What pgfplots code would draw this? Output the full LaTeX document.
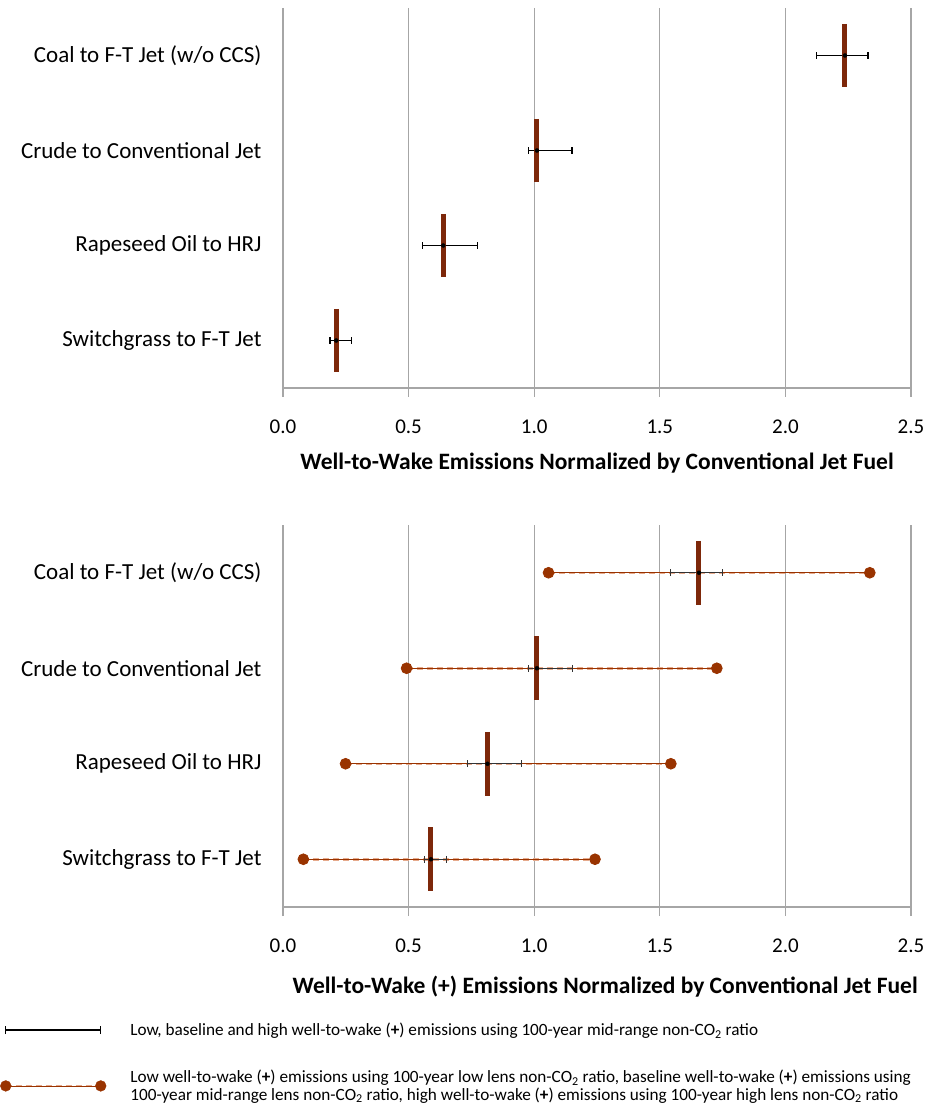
\documentclass[border=0pt]{standalone}
\usepackage{fontspec}
\setmainfont{Carlito}
\usepackage{pgfplots}
\usepackage{pgfplotstable}
\pgfplotsset{compat=1.18}
\definecolor{barc}{HTML}{7D280A}
\definecolor{dotc}{HTML}{993300}
\definecolor{palec}{HTML}{E6AA8C}
\definecolor{gridc}{HTML}{A6A6A6}

\pgfplotstableread[row sep=\\]{
x y ep em\\
2.237 0 0.091 0.114\\
1.011 1 0.140 0.033\\
0.638 2 0.137 0.082\\
0.212 3 0.060 0.025\\
}\toperr
\pgfplotstableread[row sep=\\]{
x y ep em\\
1.656 0 0.092 0.115\\
1.011 1 0.140 0.033\\
0.814 2 0.135 0.081\\
0.589 3 0.060 0.026\\
}\boterr

\pgfplotsset{mystyle/.style={
  width=628pt, scale only axis,
  xmin=0, xmax=2.5, ymin=-0.5, ymax=3.5, y dir=reverse,
  xtick={0,0.5,1,1.5,2,2.5},
  xticklabels={0.0,0.5,1.0,1.5,2.0,2.5},
  ytick={0,1,2,3},
  yticklabels={Coal to F-T Jet (w/o CCS),Crude to Conventional Jet,Rapeseed Oil to HRJ,Switchgrass to F-T Jet},
  xmajorgrids, major grid style={gridc, line width=1.2pt},
  axis x line*=bottom, axis y line*=left,
  x axis line style={gridc, line width=1.2pt},
  y axis line style={draw=none},
  tick align=outside, major tick length=9pt,
  xtick style={gridc, line width=1.2pt},
  ytick style={draw=none},
  xticklabel style={font=\fontsize{21}{25}\selectfont, yshift=-19pt},
  yticklabel style={font=\fontsize{23}{27}\selectfont, xshift=-9pt},
  /pgf/number format/assume math mode=true,
  clip=false,
}}

\begin{document}
\begin{tikzpicture}
\path[use as bounding box] (0,0) rectangle (930pt,1105pt);
\begin{axis}[mystyle, height=380pt, at={(283pt,717pt)}, anchor=south west,
  xlabel={Well-to-Wake Emissions Normalized by Conventional Jet Fuel},
  every axis x label/.style={at={(axis description cs:0.5,-0.197)}, anchor=center,
    font=\bfseries\fontsize{23.5}{27}\selectfont}]
\addplot[only marks, mark=|, mark size=31.5pt, mark options={line width=5pt, draw=barc}]
  coordinates {(2.237,0) (1.011,1) (0.638,2) (0.212,3)};
\addplot[only marks, mark=none, black,
  error bars/.cd, x dir=both, x explicit,
  error bar style={line width=1.4pt, black},
  error mark options={mark size=3.3pt, line width=1.4pt, black, rotate=90}]
  table[x=x, y=y, x error plus=ep, x error minus=em] {\toperr};
\end{axis}

\begin{axis}[mystyle, height=382pt, at={(283pt,198pt)}, anchor=south west,
  xlabel={Well-to-Wake (\textbf{+}) Emissions Normalized by Conventional Jet Fuel},
  every axis x label/.style={at={(axis description cs:0.513,-0.209)}, anchor=center,
    font=\bfseries\fontsize{23.5}{27}\selectfont},
  legend style={at={(axis description cs:-0.4507,-0.298)}, anchor=north west,
    draw=none, fill=none, inner sep=0pt,
    font=\fontsize{17.2}{17.5}\selectfont,
    cells={anchor=west, align=left},
    row sep=29pt,
    /tikz/every odd column/.append style={column sep=22pt}},
  legend cell align=left]
% ranges
\addplot[palec, line width=2.5pt, dash pattern=on 6pt off 4pt, forget plot] coordinates {(1.057,0) (2.336,0)};
\addplot[dotc, line width=0.8pt, mark=*, mark size=5.4pt, mark options={solid, fill=dotc, draw=dotc}, forget plot] coordinates {(1.057,0) (2.336,0)};
\addplot[palec, line width=2.5pt, dash pattern=on 6pt off 4pt, forget plot] coordinates {(0.492,1) (1.727,1)};
\addplot[dotc, line width=0.8pt, mark=*, mark size=5.4pt, mark options={solid, fill=dotc, draw=dotc}, forget plot] coordinates {(0.492,1) (1.727,1)};
\addplot[palec, line width=2.5pt, dash pattern=on 6pt off 4pt, forget plot] coordinates {(0.249,2) (1.544,2)};
\addplot[dotc, line width=0.8pt, mark=*, mark size=5.4pt, mark options={solid, fill=dotc, draw=dotc}, forget plot] coordinates {(0.249,2) (1.544,2)};
\addplot[palec, line width=2.5pt, dash pattern=on 6pt off 4pt, forget plot] coordinates {(0.081,3) (1.242,3)};
\addplot[dotc, line width=0.8pt, mark=*, mark size=5.4pt, mark options={solid, fill=dotc, draw=dotc}, forget plot] coordinates {(0.081,3) (1.242,3)};
% centres
\addplot[only marks, mark=|, mark size=32pt, mark options={line width=5pt, draw=barc}, forget plot]
  coordinates {(1.656,0) (1.011,1) (0.814,2) (0.589,3)};
\addplot[only marks, mark=none, black, forget plot,
  error bars/.cd, x dir=both, x explicit,
  error bar style={line width=1pt, black!80},
  error mark options={mark size=3.3pt, line width=1pt, black!80, rotate=90}]
  table[x=x, y=y, x error plus=ep, x error minus=em] {\boterr};
% legend
\addlegendimage{legend image code/.code={
  \draw[black, line width=1.4pt] (0pt,0pt) -- (95pt,0pt);
  \draw[black, line width=1.4pt] (0pt,-4pt) -- (0pt,4pt);
  \draw[black, line width=1.4pt] (95pt,-4pt) -- (95pt,4pt);}}
\addlegendentry{Low, baseline and high well-to-wake (\textbf{+}) emissions using 100-year mid-range non-CO\textsubscript{2} ratio}
\addlegendimage{legend image code/.code={
  \draw[palec, line width=2.5pt, dash pattern=on 6pt off 4pt] (0pt,0pt) -- (95pt,0pt);
  \draw[dotc, line width=0.8pt] (0pt,0pt) -- (95pt,0pt);
  \fill[dotc] (0pt,0pt) circle (5.4pt);
  \fill[dotc] (95pt,0pt) circle (5.4pt);}}
\addlegendentry{Low well-to-wake (\textbf{+}) emissions using 100-year low lens non-CO\textsubscript{2} ratio, baseline well-to-wake (\textbf{+}) emissions using\\100-year mid-range lens non-CO\textsubscript{2} ratio, high well-to-wake (\textbf{+}) emissions using 100-year high lens non-CO\textsubscript{2} ratio}
\end{axis}
\end{tikzpicture}
\end{document}
